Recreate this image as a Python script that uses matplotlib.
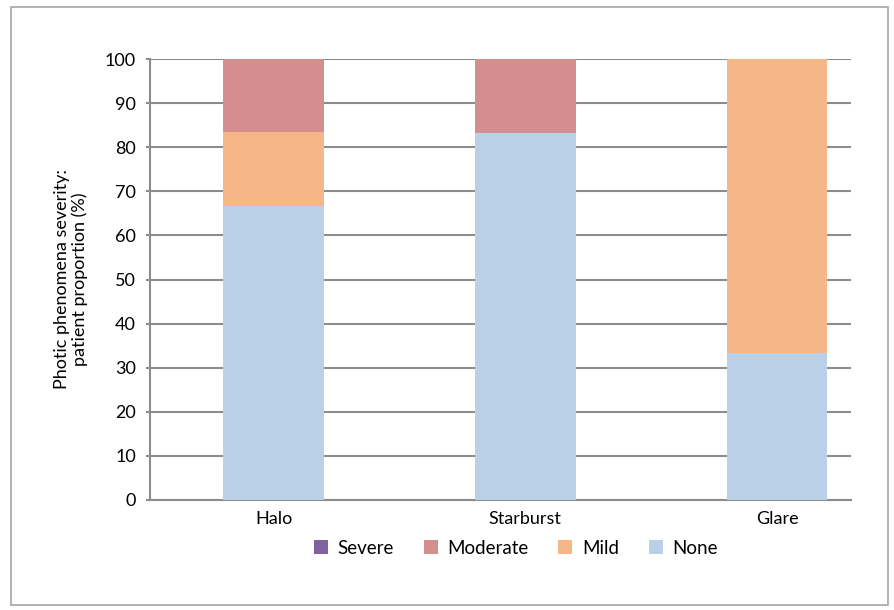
import matplotlib.pyplot as plt
from matplotlib.patches import Rectangle
import numpy as np

plt.rcParams['font.family'] = ['Lato', 'DejaVu Sans']

# severity shares (%) per phenomenon
categories = ['Halo', 'Starburst', 'Glare']
none = [66.7, 83.3, 33.3]
mild = [16.7, 0.0, 66.7]
moderate = [16.6, 16.7, 0.0]
severe = [0.0, 0.0, 0.0]

series = [('None', none, '#B9D0E6'),
          ('Mild', mild, '#F5B788'),
          ('Moderate', moderate, '#D48E8D'),
          ('Severe', severe, '#7F63A1')]

fig = plt.figure(figsize=(8.94, 6.10), dpi=100)
ax = fig.add_axes([150 / 894, 110 / 610, 701 / 894, 441 / 610])

x = np.arange(len(categories))
bottom = np.zeros(len(categories))
handles = {}
for name, vals, color in series:
    bars = ax.bar(x, vals, width=0.40, bottom=bottom, color=color, zorder=3)
    handles[name] = bars
    bottom += np.array(vals)

ax.set_xlim(-0.491, 2.294)
ax.set_ylim(0, 100)
ax.set_yticks(range(0, 101, 10))
ax.yaxis.grid(True, color='#8C8C8C', linewidth=1.5, zorder=0)
ax.set_xticks(x)
ax.set_xticklabels(categories, fontsize=13)
ax.tick_params(axis='x', length=0, pad=8)
ax.tick_params(axis='y', length=3, width=1.5, color='#8C8C8C', labelsize=13, pad=7)

for side in ['top', 'right']:
    ax.spines[side].set_visible(False)
for side in ['left', 'bottom']:
    ax.spines[side].set_color('#8C8C8C')
    ax.spines[side].set_linewidth(1.5)

ax.set_ylabel('Photic phenomena severity:\npatient proportion (%)', fontsize=13, labelpad=12,
              linespacing=1.1)

order = ['Severe', 'Moderate', 'Mild', 'None']
fig.legend([handles[n] for n in order], order, loc='center', bbox_to_anchor=(0.577, 1 - 548 / 610),
           ncol=4, frameon=False, fontsize=13.5, handlelength=0.75, handleheight=0.75,
           handletextpad=0.5, columnspacing=1.6)

# outer frame around the chart
fig.patches.append(Rectangle((11 / 894, 5 / 610), 877 / 894, 598 / 610, transform=fig.transFigure,
                             fill=False, edgecolor='#A6A6A6', linewidth=1.2))

fig.savefig('out.png', dpi=100)
